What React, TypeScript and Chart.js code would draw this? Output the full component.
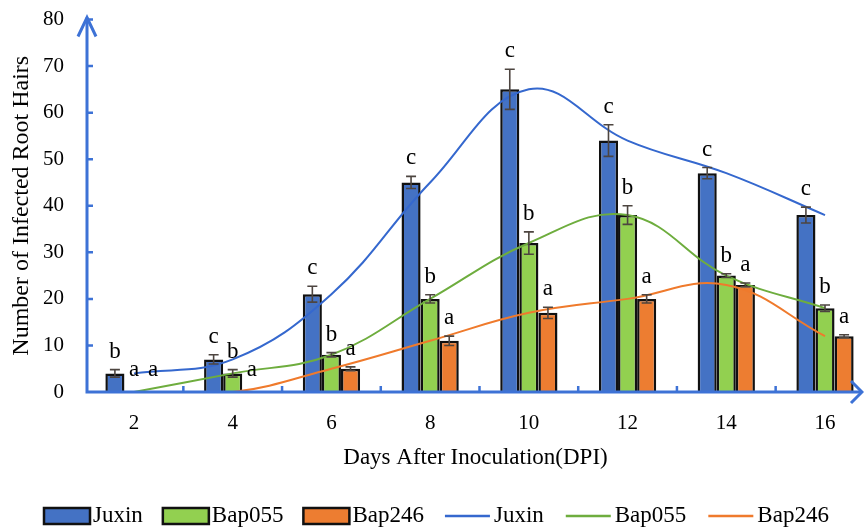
import React, { useEffect, useRef } from 'react';
import { Chart, registerables } from 'chart.js';

Chart.register(...registerables);

// ---- data ----
const days = [2, 4, 6, 8, 10, 12, 14, 16];
const juxin = [4, 7, 21, 45, 65, 54, 47, 38];
const bap055 = [0, 4, 8, 20, 32, 38, 25, 18];
const bap246 = [0, 0, 5, 11, 17, 20, 23, 12];
const juxinErr = [0.8, 1.0, 1.7, 1.3, 4.3, 3.4, 1.2, 1.7];
const bap055Err = [0, 0.8, 0.45, 0.9, 2.4, 2.0, 0.4, 0.7];
const bap246Err = [0, 0, 0.4, 1.0, 1.2, 0.9, 0.4, 0.3];
const juxinLetters = ['b', 'c', 'c', 'c', 'c', 'c', 'c', 'c'];
const bap055Letters = ['a', 'b', 'b', 'b', 'b', 'b', 'b', 'b'];
const bap246Letters = ['a', 'a', 'a', 'a', 'a', 'a', 'a', 'a'];
const yTicks = [0, 10, 20, 30, 40, 50, 60, 70, 80];
const seriesNames = ['Juxin', 'Bap055', 'Bap246'];

// ---- styles ----
const FONT = "'Liberation Serif', 'Times New Roman', serif";
const BAR_COLORS = ['#4472C4', '#92D050', '#ED7D31'];
const LINE_COLORS = ['#3568CE', '#6EAD3E', '#EF7A2C'];
const AXIS_COLOR = '#3D72D6';
const ERR_COLOR = '#4d4540';

const barValues = [juxin, bap055, bap246];
const barErrs = [juxinErr, bap055Err, bap246Err];
const barLetters = [juxinLetters, bap055Letters, bap246Letters];

const toPoints = (vals: number[]) => vals.map((v, i) => ({ x: days[i], y: v }));

const decorPlugin = {
  id: 'decor',
  afterDatasetsDraw(chart: any) {
    const ctx = chart.ctx as CanvasRenderingContext2D;
    const xs = chart.scales.x;
    const ys = chart.scales.y;
    const area = chart.chartArea;
    ctx.save();

    // error bars + letters
    for (let d = 0; d < 3; d++) {
      const meta = chart.getDatasetMeta(d);
      meta.data.forEach((el: any, j: number) => {
        const v = barValues[d][j];
        const e = barErrs[d][j];
        const cx = el.x;
        let topPx = ys.getPixelForValue(v);
        if (e > 0) {
          const pTop = ys.getPixelForValue(v + e);
          const pBot = ys.getPixelForValue(v - e);
          topPx = pTop;
          ctx.strokeStyle = ERR_COLOR;
          ctx.lineWidth = 1.6;
          ctx.beginPath();
          ctx.moveTo(cx, pTop);
          ctx.lineTo(cx, pBot);
          ctx.moveTo(cx - 5, pTop);
          ctx.lineTo(cx + 5, pTop);
          ctx.moveTo(cx - 5, pBot);
          ctx.lineTo(cx + 5, pBot);
          ctx.stroke();
        }
        ctx.fillStyle = '#000';
        ctx.font = `23px ${FONT}`;
        ctx.textAlign = 'center';
        ctx.textBaseline = 'alphabetic';
        ctx.fillText(barLetters[d][j], cx, topPx - (v === 0 ? 16 : 12));
      });
    }

    // axes
    const x0 = area.left;
    const y0 = ys.getPixelForValue(0);
    const yTop = ys.getPixelForValue(80);
    ctx.strokeStyle = AXIS_COLOR;
    ctx.lineWidth = 3;
    ctx.lineCap = 'butt';
    ctx.beginPath();
    ctx.moveTo(x0, y0 + 1.5);
    ctx.lineTo(x0, yTop - 2);
    ctx.moveTo(x0 - 1.5, y0);
    ctx.lineTo(area.right - 2, y0);
    ctx.stroke();
    ctx.lineJoin = 'miter';
    ctx.beginPath();
    ctx.moveTo(x0 - 9, yTop + 17);
    ctx.lineTo(x0, yTop - 2);
    ctx.lineTo(x0 + 9, yTop + 17);
    ctx.moveTo(area.right - 13, y0 - 11);
    ctx.lineTo(area.right - 2, y0);
    ctx.lineTo(area.right - 13, y0 + 11);
    ctx.stroke();
    ctx.lineWidth = 2.5;
    ctx.beginPath();
    yTicks.forEach((v) => {
      if (v === 0) return;
      const py = ys.getPixelForValue(v);
      ctx.moveTo(x0, py);
      ctx.lineTo(x0 + 6, py);
    });
    for (let i = 0; i < days.length - 1; i++) {
      const px = xs.getPixelForValue((days[i] + days[i + 1]) / 2);
      ctx.moveTo(px, y0);
      ctx.lineTo(px, y0 - 6);
    }
    ctx.stroke();
    ctx.restore();
  },
  afterDraw(chart: any) {
    const ctx = chart.ctx as CanvasRenderingContext2D;
    ctx.save();
    ctx.font = `23px ${FONT}`;
    ctx.textBaseline = 'middle';
    ctx.textAlign = 'left';
    const cy = 516;
    let x = 44;
    // bar legend items
    for (let i = 0; i < 3; i++) {
      ctx.fillStyle = BAR_COLORS[i];
      ctx.fillRect(x, cy - 8, 46, 16);
      ctx.strokeStyle = '#111';
      ctx.lineWidth = 2.5;
      ctx.strokeRect(x, cy - 8, 46, 16);
      x += 49;
      ctx.fillStyle = '#000';
      ctx.fillText(seriesNames[i], x, cy);
      x += ctx.measureText(seriesNames[i]).width + 20;
    }
    x += 1;
    for (let i = 0; i < 3; i++) {
      ctx.strokeStyle = LINE_COLORS[i];
      ctx.lineWidth = 2.5;
      ctx.beginPath();
      ctx.moveTo(x, cy);
      ctx.lineTo(x + 45, cy);
      ctx.stroke();
      x += 49;
      ctx.fillStyle = '#000';
      ctx.fillText(seriesNames[i], x, cy);
      x += ctx.measureText(seriesNames[i]).width + 22;
    }
    ctx.restore();
  },
};

export default function App() {
  const ref = useRef<HTMLCanvasElement>(null);
  useEffect(() => {
    if (!ref.current) return;
    const chart = new Chart(ref.current, {
      type: 'bar',
      data: {
        datasets: [
          ...barValues.map((vals, i) => ({
            type: 'bar' as const,
            label: seriesNames[i],
            data: toPoints(vals),
            backgroundColor: BAR_COLORS[i],
            borderColor: '#111',
            borderWidth: 2.5,
            borderSkipped: 'start' as const,
            categoryPercentage: 0.58,
            barPercentage: 1.0,
            order: 1,
          })),
          ...barValues.map((vals, i) => ({
            type: 'line' as const,
            label: seriesNames[i],
            data: toPoints(vals),
            borderColor: LINE_COLORS[i],
            backgroundColor: LINE_COLORS[i],
            borderWidth: 2,
            pointRadius: 0,
            tension: 0.4,
            fill: false,
            order: 0,
          })),
        ],
      },
      options: {
        responsive: false,
        animation: false,
        layout: { padding: { top: 19.5, left: 0, right: 0, bottom: 0 } },
        plugins: {
          legend: { display: false },
          tooltip: { enabled: false },
        },
        scales: {
          x: {
            type: 'linear',
            offset: false,
            min: 1.048,
            max: 16.79,
            grid: { display: false, drawTicks: true, tickLength: 19, offset: false },
            border: { display: false },
            afterBuildTicks: (scale: any) => {
              scale.ticks = days.map((v) => ({ value: v }));
            },
            afterFit: (scale: any) => {
              scale.height = 139;
            },
            ticks: {
              font: { family: FONT, size: 21 },
              color: '#000',
              padding: 0,
              callback: (v: any) => String(v),
            },
            title: {
              display: true,
              text: 'Days After Inoculation(DPI)',
              font: { family: FONT, size: 23 },
              color: '#000',
              padding: { top: 0, bottom: 59 },
            },
          },
          y: {
            min: 0,
            max: 80,
            grid: { display: false, drawTicks: true, tickLength: 23 },
            border: { display: false },
            afterFit: (scale: any) => {
              scale.width = 87;
            },
            afterBuildTicks: (scale: any) => {
              scale.ticks = yTicks.map((v) => ({ value: v }));
            },
            ticks: {
              font: { family: FONT, size: 21 },
              color: '#000',
              padding: 0,
              callback: (v: any) => String(v),
            },
            title: {
              display: true,
              text: 'Number of Infected Root Hairs',
              font: { family: FONT, size: 24 },
              color: '#000',
              padding: { top: 7.5, bottom: 0 },
            },
          },
        },
      },
      plugins: [decorPlugin],
    } as any);
    return () => chart.destroy();
  }, []);
  return (
    <div style={{ position: 'absolute', left: 0, top: 0, width: 864, height: 531, background: '#fff' }}>
      <canvas ref={ref} width={864} height={531} style={{ display: 'block' }} />
    </div>
  );
}
